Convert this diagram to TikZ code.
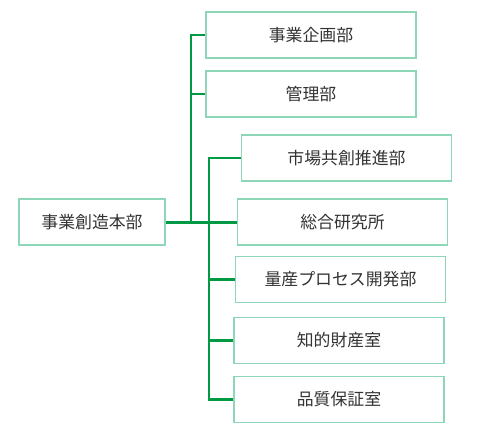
\documentclass[tikz,border=0pt]{standalone}
\usepackage{fontspec}
\newfontfamily\jpfont{Noto Sans CJK JP}
\definecolor{LineGreen}{HTML}{009A44}
\definecolor{BoxEdge}{HTML}{8ED6B8}
\definecolor{TextGray}{HTML}{333333}
\usetikzlibrary{positioning}
\tikzset{
  unit/.style={
    rectangle, draw=BoxEdge, line width=0.75pt, fill=white,
    minimum width=#1, minimum height=0.92cm, inner sep=0pt,
    text=TextGray, font=\jpfont\fontsize{9.6pt}{12pt}\selectfont
  },
  unit/.default=4.2cm,
  conn/.style={draw=LineGreen, line width=1.7pt},
}
\begin{document}
\begin{tikzpicture}[x=0.02cm, y=-0.02cm]
\useasboundingbox (0,0) rectangle (500,447);

% head office
\node[unit=2.92cm] at (92,222) (hq) {事業創造本部};

% upper branch
\node[unit] at (311,35) (plan) {事業企画部};
\node[unit] at (311,94) (admin) {管理部};

% lower branch
\node[unit] at (346.5,158) (mkt) {市場共創推進部};
\node[unit] at (342.5,222) (lab) {総合研究所};
\node[unit] at (340.5,279.5) (proc) {量産プロセス開発部};
\node[unit] at (339,340.5) (ip) {知的財産室};
\node[unit] at (339,399.5) (qa) {品質保証室};

\coordinate (j1) at (191,222);
\coordinate (j2) at (209,222);

\draw[conn] (hq.east) -- (lab.west);
\draw[conn] (plan.west) -| (j1);
\draw[conn] (admin.west) -- (admin.west -| j1);
\draw[conn] (mkt.west) -| (j2 |- qa.west) -- (qa.west);
\draw[conn] (proc.west) -- (proc.west -| j2);
\draw[conn] (ip.west) -- (ip.west -| j2);

\end{tikzpicture}
\end{document}
